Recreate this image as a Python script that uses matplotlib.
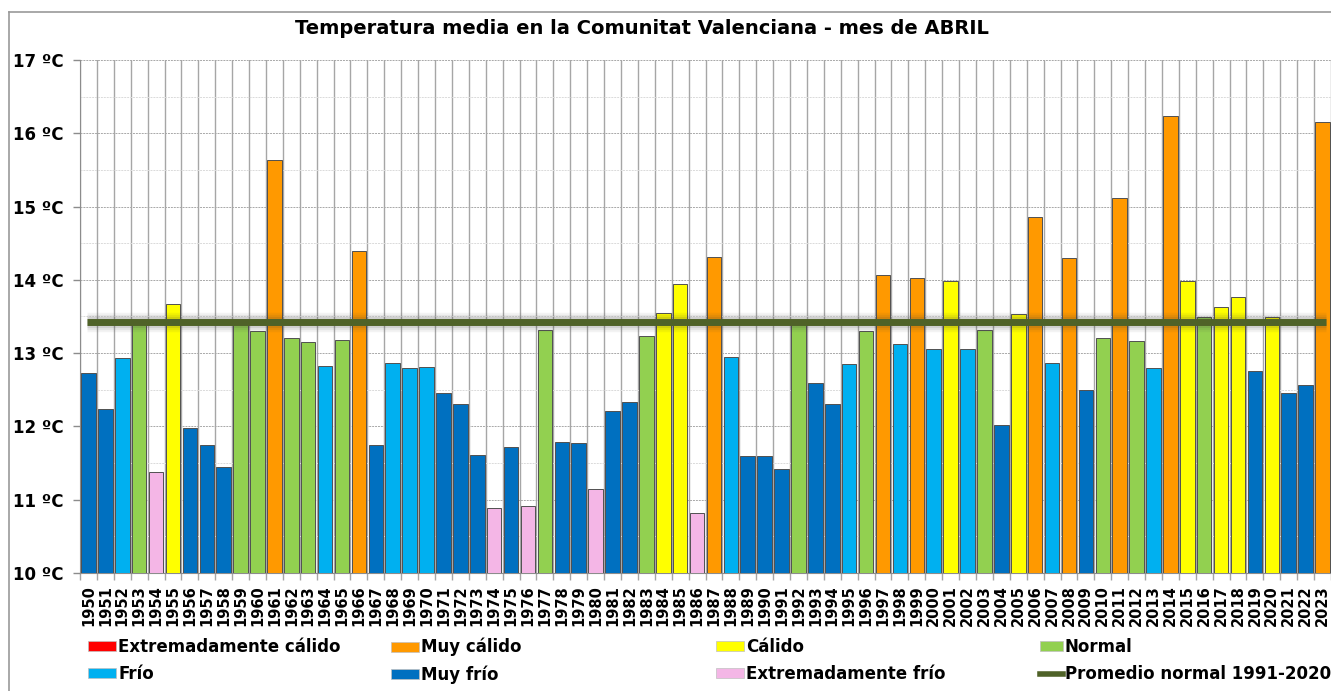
import matplotlib.pyplot as plt
from matplotlib.patches import Patch
from matplotlib.lines import Line2D
from matplotlib.ticker import MultipleLocator

# Temperatura media de abril, Comunitat Valenciana (ºC)
years = list(range(1950, 2024))
temps = [12.73, 12.24, 12.93, 13.41, 11.38, 13.67, 11.98, 11.74, 11.44, 13.41,
         13.30, 15.64, 13.20, 13.15, 12.83, 13.18, 14.39, 11.75, 12.87, 12.80,
         12.81, 12.45, 12.31, 11.61, 10.89, 11.72, 10.92, 13.31, 11.79, 11.78,
         11.14, 12.21, 12.34, 13.23, 13.55, 13.94, 10.82, 14.31, 12.95, 11.59,
         11.60, 11.42, 13.42, 12.59, 12.30, 12.85, 13.30, 14.07, 13.12, 14.03,
         13.06, 13.98, 13.05, 13.31, 12.02, 13.54, 14.86, 12.87, 14.30, 12.50,
         13.20, 15.12, 13.16, 12.80, 16.24, 13.99, 13.49, 13.63, 13.76, 12.75,
         13.50, 12.46, 12.56, 16.15]

# EC = extremadamente cálido, MC = muy cálido, C = cálido, N = normal,
# F = frío, MF = muy frío, EF = extremadamente frío
cats = ['MF', 'MF', 'F', 'N', 'EF', 'C', 'MF', 'MF', 'MF', 'N',
        'N', 'MC', 'N', 'N', 'F', 'N', 'MC', 'MF', 'F', 'F',
        'F', 'MF', 'MF', 'MF', 'EF', 'MF', 'EF', 'N', 'MF', 'MF',
        'EF', 'MF', 'MF', 'N', 'C', 'C', 'EF', 'MC', 'F', 'MF',
        'MF', 'MF', 'N', 'MF', 'MF', 'F', 'N', 'MC', 'F', 'MC',
        'F', 'C', 'F', 'N', 'MF', 'C', 'MC', 'F', 'MC', 'MF',
        'N', 'MC', 'N', 'F', 'MC', 'C', 'N', 'C', 'C', 'MF',
        'C', 'MF', 'MF', 'MC']

promedio = 13.42  # promedio normal 1991-2020

cat_colors = {'EC': '#FF0000', 'MC': '#FF9900', 'C': '#FFFF00', 'N': '#92D050',
              'F': '#00B0F0', 'MF': '#0070C0', 'EF': '#F4B6E6'}
cat_names = {'EC': 'Extremadamente cálido', 'MC': 'Muy cálido', 'C': 'Cálido',
             'N': 'Normal', 'F': 'Frío', 'MF': 'Muy frío',
             'EF': 'Extremadamente frío'}

fig = plt.figure(figsize=(13.31, 6.91), dpi=100)
ax = fig.add_axes([80 / 1331, 1 - 573 / 691, 1 - 80 / 1331, (573 - 60) / 691])

# frame (only top and left edges are visible in the original)
fy = 1 - 12 / 691
fx = 9 / 1331
fig.add_artist(Line2D([fx, 1], [fy, fy], transform=fig.transFigure, color='#999999', linewidth=1.2))
fig.add_artist(Line2D([fx, fx], [0, fy], transform=fig.transFigure, color='#999999', linewidth=1.2))

x = list(range(len(years)))
ax.bar(x, [t - 10 for t in temps], bottom=10, width=0.86,
       color=[cat_colors[c] for c in cats], edgecolor='#505050', linewidth=0.7, zorder=3)

# average line with a soft shadow
for lw, a in [(14, 0.06), (11, 0.08), (8, 0.12)]:
    ax.hlines(promedio, -0.1, 73.2, color='#404040', linewidth=lw, alpha=a, zorder=4)
ax.hlines(promedio, -0.1, 73.2, color='#4F6228', linewidth=5, zorder=5)

ax.set_xlim(-0.5, len(years) - 0.5)
ax.set_ylim(10, 17)

# grid
ax.yaxis.set_major_locator(MultipleLocator(1))
ax.yaxis.set_minor_locator(MultipleLocator(0.5))
ax.grid(axis='y', which='major', color='#A8A8A8', linestyle=(0, (2, 1)), linewidth=0.7, zorder=1)
ax.grid(axis='y', which='minor', color='#DADADA', linestyle=(0, (2, 1)), linewidth=0.7, zorder=1)
for b in range(len(years) + 1):
    ax.axvline(b - 0.5, color='#A6A6A6', linewidth=1, zorder=1)

ax.set_yticks(range(10, 18))
ax.set_yticklabels([f'{v} ºC' for v in range(10, 18)], fontsize=12, fontweight='bold')
ax.tick_params(axis='y', which='major', length=5, width=1, color='#8C8C8C', pad=7)
ax.tick_params(axis='y', which='minor', length=0)

ax.set_xticks(x)
ax.set_xticklabels([str(y) for y in years], rotation=90, fontsize=10.5, fontweight='bold')
ax.set_xticks([b - 0.5 for b in range(len(years) + 1)], minor=True)
ax.tick_params(axis='x', which='major', length=0, pad=9)
ax.tick_params(axis='x', which='minor', length=5, width=1, color='#A6A6A6')

for s in ['top', 'right']:
    ax.spines[s].set_visible(False)
ax.spines['left'].set_color('#8C8C8C')
ax.spines['bottom'].set_color('#8C8C8C')

fig.text(0.482, 1 - 29 / 691, 'Temperatura media en la Comunitat Valenciana - mes de ABRIL',
         ha='center', va='center', fontsize=14, fontweight='bold')

# legend, one column at a time
columns = [['EC', 'F'], ['MC', 'MF'], ['C', 'EF'], ['N', None]]
col_x = [88, 391, 716, 1040]
for cx, col in zip(col_x, columns):
    handles = []
    for c in col:
        if c is None:
            handles.append(Line2D([0], [0], color='#4F6228', linewidth=4,
                                  label='Promedio normal 1991-2020'))
        else:
            handles.append(Patch(facecolor=cat_colors[c], edgecolor='#C0C0C0',
                                 linewidth=0.5, label=cat_names[c]))
    fig.legend(handles=handles, loc='upper left', bbox_to_anchor=(cx / 1331, 1 - 638 / 691),
               frameon=False, prop={'weight': 'bold', 'size': 12},
               handlelength=1.4 if col[1] is None else 1.7, handleheight=0.55,
               handletextpad=0.1, labelspacing=0.55, borderpad=0, borderaxespad=0)

fig.savefig('out.png', dpi=100)
